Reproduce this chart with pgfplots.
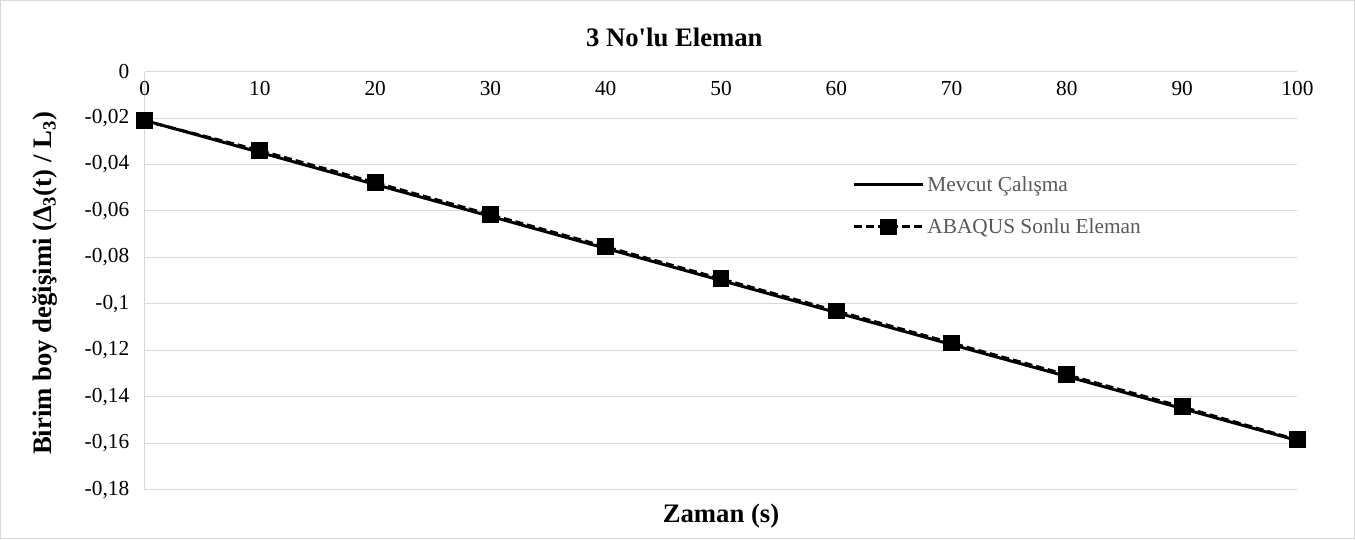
\documentclass[border=0pt]{standalone}
\usepackage{fontspec}
\setmainfont{Liberation Serif}
\usepackage{pgfplots}
\pgfplotsset{compat=1.18}
\definecolor{gridgray}{HTML}{D9D9D9}
\definecolor{legtext}{HTML}{595959}
\begin{document}
\begin{tikzpicture}
\begin{axis}[
  name=ax,
  scale only axis,
  width=864pt, height=313.5pt,
  xmin=0, xmax=100, ymin=-0.18, ymax=0,
  axis x line*=top, axis y line*=left,
  axis line style={gridgray, line width=0.75pt, -},
  xtick={0,10,...,100},
  ytick={0,-0.02,-0.04,-0.06,-0.08,-0.1,-0.12,-0.14,-0.16,-0.18},
  yticklabels={{0},{-0,02},{-0,04},{-0,06},{-0,08},{-0,1},{-0,12},{-0,14},{-0,16},{-0,18}},
  xticklabels={0,10,20,30,40,50,60,70,80,90,100},
  major tick length=0pt,
  ymajorgrids, grid style={gridgray, line width=0.75pt},
  xticklabel style={anchor=north, yshift=-4pt, font=\fontsize{16}{18}\selectfont},
  yticklabel style={font=\fontsize{16}{18}\selectfont, xshift=-8pt},
  legend cell align=left,
  legend style={draw=none, fill=none, at={(axis description cs:0.6137,0.679)}, anchor=west,
    font=\fontsize{16}{19}\selectfont\color{legtext}, row sep=15pt, inner sep=0pt},
  legend image code/.code={\draw[mark repeat=2,mark phase=2] plot coordinates {(0pt,0pt) (26pt,0pt) (52pt,0pt)};},
  clip=false,
]
\addplot[black, line width=2.2pt] coordinates {
 (0,-0.0210) (10,-0.0348) (20,-0.0486) (30,-0.0623) (40,-0.0761) (50,-0.0899)
 (60,-0.1037) (70,-0.1175) (80,-0.1312) (90,-0.1450) (100,-0.1588)};
\addlegendentry{Mevcut Çalışma}
\addplot[black, line width=2.2pt, dash pattern=on 6pt off 3pt, mark=square*, mark size=5.2pt, mark options={solid}] coordinates {
 (0,-0.0212) (10,-0.0340) (20,-0.0478) (30,-0.0616) (40,-0.0754) (50,-0.0892)
 (60,-0.1030) (70,-0.1168) (80,-0.1305) (90,-0.1443) (100,-0.1585)};
\addlegendentry{ABAQUS Sonlu Eleman}
\end{axis}
\node[anchor=base, font=\fontsize{20}{24}\selectfont\bfseries] at ([yshift=18.75pt, xshift=-35pt]ax.north) {3 No\textquotesingle lu Eleman};
\node[anchor=base, font=\fontsize{20}{24}\selectfont\bfseries] at ([yshift=-24.75pt]ax.south) {Zaman (s)};
\node[anchor=base, rotate=90, font=\fontsize{20}{24}\selectfont\bfseries] at ([xshift=-69.75pt, yshift=-2pt]ax.west) {Birim boy değişimi (Δ\textsubscript{3}(t) / L\textsubscript{3})};
\draw[gridgray, line width=0.75pt] ([xshift=-108pt, yshift=-36.75pt]ax.south west) rectangle ([xshift=42.75pt, yshift=53.25pt]ax.north east);
\end{tikzpicture}
\end{document}
